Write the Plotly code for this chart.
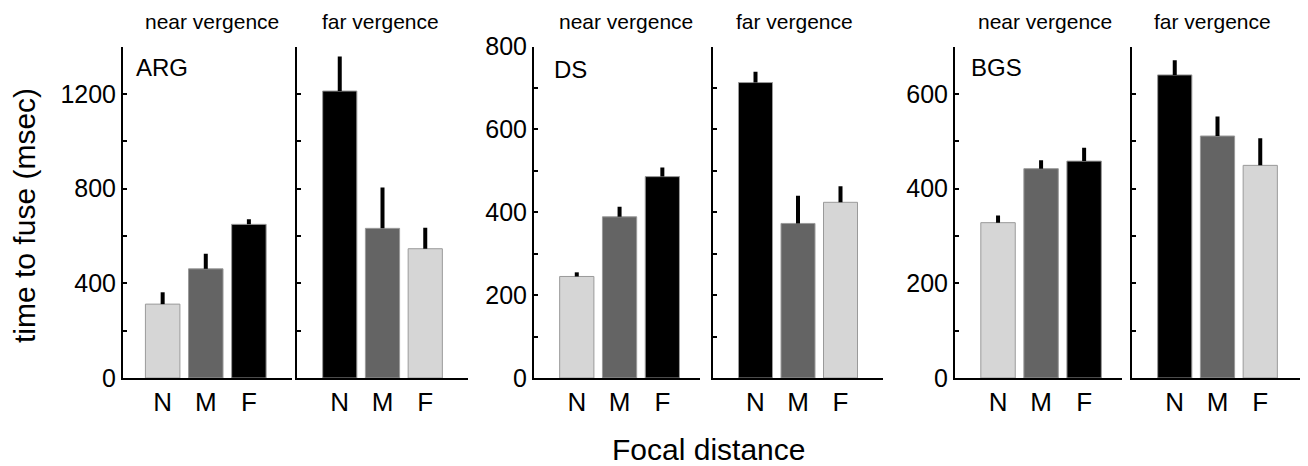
import plotly.graph_objects as go

W, H = 1308, 466
OFF = 8  # page body margin in the browser
FW, FH = W - OFF, H - OFF

categories = ["N", "M", "F"]

# mean time to fuse (msec) and upper error-bar length
arg_near = [312, 461, 649]
arg_near_err = [50, 64, 21]
arg_far = [1212, 632, 546]
arg_far_err = [146, 172, 89]

ds_near = [245, 389, 486]
ds_near_err = [10, 24, 22]
ds_far = [713, 373, 424]
ds_far_err = [26, 67, 39]

bgs_near = [328, 442, 458]
bgs_near_err = [15, 18, 28]
bgs_far = [640, 511, 449]
bgs_far_err = [31, 41, 57]

LIGHT, MID, DARK = "#d6d6d6", "#646464", "#000000"
near_colors = [LIGHT, MID, DARK]
far_colors = [DARK, MID, LIGHT]

panels = [
    (arg_near, arg_near_err, near_colors, (123, 292), [0.08, 4.0], 1400, 200, 400, True),
    (arg_far, arg_far_err, far_colors, (297, 468), [0.0, 4.0], 1400, 200, 400, False),
    (ds_near, ds_near_err, near_colors, (534, 700), [0.0, 3.88], 800, 100, 200, True),
    (ds_far, ds_far_err, far_colors, (713, 883), [0.0, 4.0], 800, 100, 200, False),
    (bgs_near, bgs_near_err, near_colors, (955, 1122), [0.0, 3.88], 700, 100, 200, True),
    (bgs_far, bgs_far_err, far_colors, (1132, 1303), [0.0, 4.0], 700, 100, 200, False),
]

FONT = "Liberation Sans, Arial, Helvetica, sans-serif"


def px_x(p):
    return (p - OFF) / FW


def px_y(p):
    return 1 - (p - OFF) / FH


y_top_px, y_bot_px = 46.5, 378
ydom = [px_y(y_bot_px), px_y(y_top_px)]

fig = go.Figure()
layout = dict(
    width=FW, height=FH,
    margin=dict(l=0, r=0, t=0, b=0, autoexpand=False),
    paper_bgcolor="white", plot_bgcolor="white",
    showlegend=False,
    font=dict(family=FONT, color="black"),
)

for i, (vals, errs, cols, (x0, x1), xr, ymax, step, lstep, show) in enumerate(panels):
    n = i + 1
    xa = "x" if n == 1 else f"x{n}"
    ya = "y" if n == 1 else f"y{n}"
    fig.add_trace(go.Bar(
        x=[1, 2, 3], y=vals, width=0.8,
        marker=dict(color=cols, line=dict(color="#9a9a9a", width=1)),
        error_y=dict(type="data", symmetric=False, array=errs,
                     arrayminus=[0, 0, 0], thickness=4, width=0, color="black"),
        xaxis=xa, yaxis=ya, hoverinfo="skip",
    ))
    tv = list(range(0, ymax + 1, step))
    tt = [str(v) if (show and v % lstep == 0) else "" for v in tv]
    layout["xaxis" if n == 1 else f"xaxis{n}"] = dict(
        domain=[px_x(x0), px_x(x1)], range=xr, anchor=ya, automargin=False,
        showline=True, linewidth=2, linecolor="black",
        showgrid=False, zeroline=False, ticks="",
        tickvals=[1, 2, 3], ticktext=categories,
        tickfont=dict(size=26, family=FONT, color="black"),
        fixedrange=True,
    )
    layout["yaxis" if n == 1 else f"yaxis{n}"] = dict(
        domain=ydom, range=[0, ymax], anchor=xa, automargin=False,
        showline=True, linewidth=2, linecolor="black",
        showgrid=False, zeroline=False,
        ticks="inside", ticklen=4, tickwidth=2, tickcolor="black",
        tickvals=tv, ticktext=tt, showticklabels=show,
        tickfont=dict(size=25, family=FONT, color="black"),
        fixedrange=True,
    )

fig.update_layout(**layout)

ann = []


def add_text(text, xpx, ypx, size, xanchor="center", angle=0, yanchor="middle"):
    ann.append(dict(text=text, x=px_x(xpx), y=px_y(ypx), xref="paper", yref="paper",
                    showarrow=False, xanchor=xanchor, yanchor=yanchor, textangle=angle,
                    font=dict(size=size, family=FONT, color="black")))


for cx in (212, 626, 1045):
    add_text("near vergence", cx, 8.5, 21, yanchor="top")
for cx in (380, 794, 1212):
    add_text("far vergence", cx, 8.5, 21, yanchor="top")

add_text("ARG", 134, 68, 24, xanchor="left")
add_text("DS", 552, 70, 24, xanchor="left")
add_text("BGS", 969, 68, 24, xanchor="left")

add_text("time to fuse (msec)", 25, 216, 30, angle=-90)
add_text("Focal distance", 708, 449, 30)

fig.update_layout(annotations=ann)
fig.write_html("out.html")
